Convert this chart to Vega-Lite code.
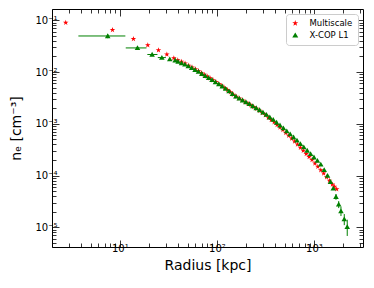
{
  "$schema": "https://vega.github.io/schema/vega-lite/v6.json",
  "width": 311,
  "height": 238,
  "autosize": {"type": "none"},
  "padding": {"left": 52, "top": 9, "right": 11, "bottom": 41},
  "config": {
    "view": {"stroke": "black", "strokeWidth": 1},
    "axis": {"grid": false, "domain": false, "tickColor": "black", "tickWidth": 0.8, "labelColor": "black", "labelFont": "DejaVu Sans", "labelFontSize": 10, "titleFont": "DejaVu Sans", "titleFontSize": 14, "titleFontWeight": "normal", "titleColor": "black"}
  },
  "data": {"values": [
      {"series": "Multiscale", "r": 2.77, "ne": 0.09},
      {"series": "Multiscale", "r": 8.4, "ne": 0.065},
      {"series": "Multiscale", "r": 13.8, "ne": 0.0436},
      {"series": "Multiscale", "r": 19.4, "ne": 0.033},
      {"series": "Multiscale", "r": 25, "ne": 0.0264},
      {"series": "Multiscale", "r": 30.5, "ne": 0.0218},
      {"series": "Multiscale", "r": 36, "ne": 0.0185},
      {"series": "Multiscale", "r": 39.5, "ne": 0.017},
      {"series": "Multiscale", "r": 43.2, "ne": 0.01585},
      {"series": "Multiscale", "r": 47, "ne": 0.01462},
      {"series": "Multiscale", "r": 51.3, "ne": 0.01334},
      {"series": "Multiscale", "r": 55.5, "ne": 0.0123},
      {"series": "Multiscale", "r": 60, "ne": 0.01135},
      {"series": "Multiscale", "r": 64.6, "ne": 0.01047},
      {"series": "Multiscale", "r": 69.2, "ne": 0.00966},
      {"series": "Multiscale", "r": 74.1, "ne": 0.00891},
      {"series": "Multiscale", "r": 79.4, "ne": 0.00822},
      {"series": "Multiscale", "r": 85.1, "ne": 0.00759},
      {"series": "Multiscale", "r": 91.2, "ne": 0.007},
      {"series": "Multiscale", "r": 97.7, "ne": 0.00646},
      {"series": "Multiscale", "r": 104.7, "ne": 0.00592},
      {"series": "Multiscale", "r": 112.2, "ne": 0.00543},
      {"series": "Multiscale", "r": 120.2, "ne": 0.00495},
      {"series": "Multiscale", "r": 128.8, "ne": 0.00452},
      {"series": "Multiscale", "r": 138, "ne": 0.00407},
      {"series": "Multiscale", "r": 147.9, "ne": 0.00367},
      {"series": "Multiscale", "r": 158.5, "ne": 0.00335},
      {"series": "Multiscale", "r": 169.8, "ne": 0.00309},
      {"series": "Multiscale", "r": 182, "ne": 0.00286},
      {"series": "Multiscale", "r": 195, "ne": 0.00266},
      {"series": "Multiscale", "r": 208.9, "ne": 0.00247},
      {"series": "Multiscale", "r": 223.9, "ne": 0.00229},
      {"series": "Multiscale", "r": 239.9, "ne": 0.00211},
      {"series": "Multiscale", "r": 257, "ne": 0.00195},
      {"series": "Multiscale", "r": 275.4, "ne": 0.00179},
      {"series": "Multiscale", "r": 295.1, "ne": 0.00162},
      {"series": "Multiscale", "r": 316.2, "ne": 0.00147},
      {"series": "Multiscale", "r": 338.8, "ne": 0.00132},
      {"series": "Multiscale", "r": 363.1, "ne": 0.00119},
      {"series": "Multiscale", "r": 389, "ne": 0.00107},
      {"series": "Multiscale", "r": 416.9, "ne": 0.000955},
      {"series": "Multiscale", "r": 446.7, "ne": 0.000851},
      {"series": "Multiscale", "r": 478.6, "ne": 0.000759},
      {"series": "Multiscale", "r": 512.9, "ne": 0.000668},
      {"series": "Multiscale", "r": 549.5, "ne": 0.000589},
      {"series": "Multiscale", "r": 588.8, "ne": 0.000519},
      {"series": "Multiscale", "r": 631, "ne": 0.000457},
      {"series": "Multiscale", "r": 676.1, "ne": 0.000398},
      {"series": "Multiscale", "r": 724.4, "ne": 0.000347},
      {"series": "Multiscale", "r": 776.2, "ne": 0.000302},
      {"series": "Multiscale", "r": 831.8, "ne": 0.000263},
      {"series": "Multiscale", "r": 891.3, "ne": 0.000229},
      {"series": "Multiscale", "r": 955, "ne": 0.0002},
      {"series": "Multiscale", "r": 1023, "ne": 0.000172},
      {"series": "Multiscale", "r": 1096, "ne": 0.000148},
      {"series": "Multiscale", "r": 1175, "ne": 0.000127},
      {"series": "Multiscale", "r": 1259, "ne": 0.00011},
      {"series": "Multiscale", "r": 1349, "ne": 0.0000933},
      {"series": "Multiscale", "r": 1445, "ne": 0.0000794},
      {"series": "Multiscale", "r": 1549, "ne": 0.0000676},
      {"series": "Multiscale", "r": 1622, "ne": 0.000061},
      {"series": "Multiscale", "r": 1714, "ne": 0.0000546},
      {"series": "X-COP L1", "r": 7.5, "ne": 0.0497, "rlo": 3.74, "rhi": 11.4, "nlo": 0.045, "nhi": 0.054},
      {"series": "X-COP L1", "r": 15.2, "ne": 0.0292, "rlo": 11.5, "rhi": 18.8},
      {"series": "X-COP L1", "r": 21.5, "ne": 0.0218, "rlo": 19.2, "rhi": 24.4},
      {"series": "X-COP L1", "r": 27.1, "ne": 0.019, "rlo": 24.6, "rhi": 29.8},
      {"series": "X-COP L1", "r": 32.7, "ne": 0.0177},
      {"series": "X-COP L1", "r": 37.2, "ne": 0.0169},
      {"series": "X-COP L1", "r": 39.8, "ne": 0.01585},
      {"series": "X-COP L1", "r": 43.2, "ne": 0.01496},
      {"series": "X-COP L1", "r": 46.8, "ne": 0.01403},
      {"series": "X-COP L1", "r": 50.7, "ne": 0.01303},
      {"series": "X-COP L1", "r": 55, "ne": 0.01208},
      {"series": "X-COP L1", "r": 59.6, "ne": 0.01109},
      {"series": "X-COP L1", "r": 64.6, "ne": 0.01016},
      {"series": "X-COP L1", "r": 70, "ne": 0.00927},
      {"series": "X-COP L1", "r": 75.9, "ne": 0.00845},
      {"series": "X-COP L1", "r": 82.2, "ne": 0.00771},
      {"series": "X-COP L1", "r": 89.1, "ne": 0.00703},
      {"series": "X-COP L1", "r": 96.6, "ne": 0.00638},
      {"series": "X-COP L1", "r": 104.7, "ne": 0.00586},
      {"series": "X-COP L1", "r": 113.5, "ne": 0.00531},
      {"series": "X-COP L1", "r": 123, "ne": 0.00479},
      {"series": "X-COP L1", "r": 133.4, "ne": 0.00427},
      {"series": "X-COP L1", "r": 144.5, "ne": 0.0038},
      {"series": "X-COP L1", "r": 156.7, "ne": 0.0034},
      {"series": "X-COP L1", "r": 169.8, "ne": 0.00309},
      {"series": "X-COP L1", "r": 184.1, "ne": 0.00285},
      {"series": "X-COP L1", "r": 199.5, "ne": 0.00263},
      {"series": "X-COP L1", "r": 216.3, "ne": 0.00242},
      {"series": "X-COP L1", "r": 234.4, "ne": 0.00221},
      {"series": "X-COP L1", "r": 254.1, "ne": 0.00202},
      {"series": "X-COP L1", "r": 275.4, "ne": 0.00185},
      {"series": "X-COP L1", "r": 298.5, "ne": 0.00166},
      {"series": "X-COP L1", "r": 323.6, "ne": 0.0015},
      {"series": "X-COP L1", "r": 350.8, "ne": 0.00134},
      {"series": "X-COP L1", "r": 380.2, "ne": 0.0012},
      {"series": "X-COP L1", "r": 412.1, "ne": 0.00106},
      {"series": "X-COP L1", "r": 446.7, "ne": 0.000938},
      {"series": "X-COP L1", "r": 484.2, "ne": 0.000822},
      {"series": "X-COP L1", "r": 524.8, "ne": 0.000724},
      {"series": "X-COP L1", "r": 568.9, "ne": 0.000631},
      {"series": "X-COP L1", "r": 616.6, "ne": 0.00055},
      {"series": "X-COP L1", "r": 668.3, "ne": 0.000479},
      {"series": "X-COP L1", "r": 724.4, "ne": 0.00041},
      {"series": "X-COP L1", "r": 785.2, "ne": 0.000355},
      {"series": "X-COP L1", "r": 851.1, "ne": 0.000305},
      {"series": "X-COP L1", "r": 922.6, "ne": 0.000263},
      {"series": "X-COP L1", "r": 1000, "ne": 0.000226},
      {"series": "X-COP L1", "r": 1084, "ne": 0.000195},
      {"series": "X-COP L1", "r": 1175, "ne": 0.000164},
      {"series": "X-COP L1", "r": 1274, "ne": 0.000129},
      {"series": "X-COP L1", "r": 1380, "ne": 0.0001},
      {"series": "X-COP L1", "r": 1479, "ne": 0.0000759},
      {"series": "X-COP L1", "r": 1581, "ne": 0.0000564},
      {"series": "X-COP L1", "r": 1686, "ne": 0.000039, "nlo": 0.000034, "nhi": 0.000044},
      {"series": "X-COP L1", "r": 1798, "ne": 0.0000277, "nlo": 0.0000235, "nhi": 0.000032},
      {"series": "X-COP L1", "r": 1897, "ne": 0.0000205, "nlo": 0.0000165, "nhi": 0.000025},
      {"series": "X-COP L1", "r": 2052, "ne": 0.0000144, "nlo": 0.000011, "nhi": 0.000018},
      {"series": "X-COP L1", "r": 2202, "ne": 0.0000102, "nlo": 0.0000068, "nhi": 0.000014}
  ]},
  "layer": [
    {
      "transform": [{"filter": "datum.rlo > 0"}],
      "mark": {"type": "rule", "color": "#008000", "strokeWidth": 1},
      "encoding": {
        "x": {"field": "rlo", "type": "quantitative", "scale": {"type": "log", "domain": [2.0, 3200], "nice": false},
          "axis": {"orient": "bottom", "values": [2, 3, 4, 5, 6, 7, 8, 9, 10, 20, 30, 40, 50, 60, 70, 80, 90, 100, 200, 300, 400, 500, 600, 700, 800, 900, 1000, 2000, 3000], "labelExpr": "datum.value == 10 ? '10¹' : datum.value == 100 ? '10²' : datum.value == 1000 ? '10³' : ''", "tickSize": {"condition": {"test": "datum.value == 10 || datum.value == 100 || datum.value == 1000", "value": -7}, "value": -4}, "labelPadding": 3, "title": "Radius [kpc]", "titlePadding": 5}},
        "x2": {"field": "rhi"},
        "y": {"field": "ne", "type": "quantitative", "scale": {"type": "log", "domain": [0.00000416, 0.165], "nice": false},
          "axis": {"orient": "left", "values": [0.000005, 0.000006, 0.000007, 0.000008, 0.000009, 0.00001, 0.00002, 0.00003, 0.00004, 0.00005, 0.00006, 0.00007, 0.00008, 0.00009, 0.0001, 0.0002, 0.0003, 0.0004, 0.0005, 0.0006, 0.0007, 0.0008, 0.0009, 0.001, 0.002, 0.003, 0.004, 0.005, 0.006, 0.007, 0.008, 0.009, 0.01, 0.02, 0.03, 0.04, 0.05, 0.06, 0.07, 0.08, 0.09, 0.1], "labelExpr": "abs(log(datum.value)/LN10 - round(log(datum.value)/LN10)) > 0.01 ? '' : datum.value < 0.00002 ? '10⁻⁵' : datum.value < 0.0002 ? '10⁻⁴' : datum.value < 0.002 ? '10⁻³' : datum.value < 0.02 ? '10⁻²' : '10⁻¹'", "tickSize": {"condition": {"test": "abs(log(datum.value)/LN10 - round(log(datum.value)/LN10)) < 0.01", "value": -7}, "value": -4}, "labelPadding": 2, "title": "nₑ [cm⁻³]", "titlePadding": 11}}
      }
    },
    {
      "transform": [{"filter": "datum.nlo > 0"}],
      "mark": {"type": "rule", "color": "#008000", "strokeWidth": 1},
      "encoding": {
        "x": {"field": "r", "type": "quantitative", "scale": {"type": "log", "domain": [2.0, 3200], "nice": false},
          "axis": {"orient": "top", "values": [2, 3, 4, 5, 6, 7, 8, 9, 10, 20, 30, 40, 50, 60, 70, 80, 90, 100, 200, 300, 400, 500, 600, 700, 800, 900, 1000, 2000, 3000], "labels": false, "tickSize": {"condition": {"test": "datum.value == 10 || datum.value == 100 || datum.value == 1000", "value": -7}, "value": -4}, "title": null}},
        "y": {"field": "nlo", "type": "quantitative", "scale": {"type": "log", "domain": [0.00000416, 0.165], "nice": false},
          "axis": {"orient": "right", "values": [0.000005, 0.000006, 0.000007, 0.000008, 0.000009, 0.00001, 0.00002, 0.00003, 0.00004, 0.00005, 0.00006, 0.00007, 0.00008, 0.00009, 0.0001, 0.0002, 0.0003, 0.0004, 0.0005, 0.0006, 0.0007, 0.0008, 0.0009, 0.001, 0.002, 0.003, 0.004, 0.005, 0.006, 0.007, 0.008, 0.009, 0.01, 0.02, 0.03, 0.04, 0.05, 0.06, 0.07, 0.08, 0.09, 0.1], "labels": false, "tickSize": {"condition": {"test": "abs(log(datum.value)/LN10 - round(log(datum.value)/LN10)) < 0.01", "value": -7}, "value": -4}, "title": null}},
        "y2": {"field": "nhi"}
      }
    },
    {
      "mark": {"type": "point", "filled": true, "size": 34, "opacity": 1, "strokeWidth": 0},
      "encoding": {
        "x": {"field": "r", "type": "quantitative", "scale": {"type": "log", "domain": [2.0, 3200], "nice": false}, "axis": null},
        "y": {"field": "ne", "type": "quantitative", "scale": {"type": "log", "domain": [0.00000416, 0.165], "nice": false}, "axis": null},
        "color": {"field": "series", "type": "nominal", "scale": {"domain": ["Multiscale", "X-COP L1"], "range": ["#ff0000", "#008000"]},
          "legend": {"title": null, "orient": "top-right", "offset": 5, "fillColor": "white", "strokeColor": "#cccccc", "cornerRadius": 3, "padding": 5, "labelFontSize": 8.5, "labelFont": "DejaVu Sans", "labelColor": "black", "symbolSize": 40, "labelOffset": 10, "rowPadding": 3}},
        "shape": {"field": "series", "type": "nominal", "scale": {"domain": ["Multiscale", "X-COP L1"], "range": ["M0,-1L0.2245,-0.309L0.951,-0.309L0.363,0.118L0.588,0.809L0,0.382L-0.588,0.809L-0.363,0.118L-0.951,-0.309L-0.2245,-0.309Z", "M0,-0.9L0.95,0.75L-0.95,0.75Z"]}}
      }
    }
  ],
  "resolve": {"axis": {"x": "independent", "y": "independent"}}
}
